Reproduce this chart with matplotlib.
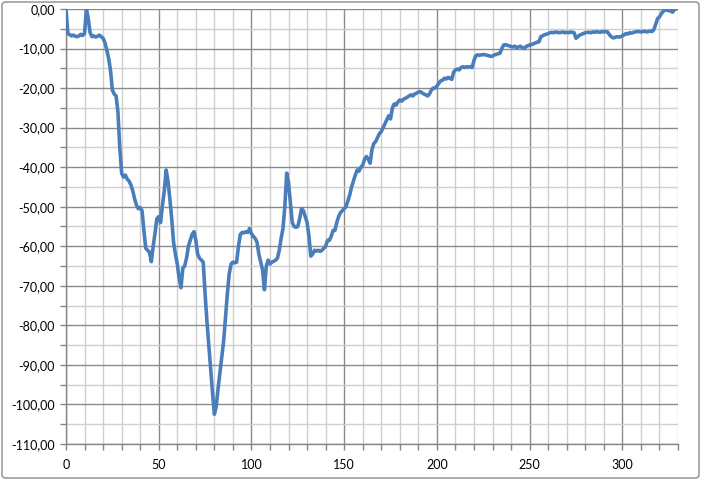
import numpy as np
import matplotlib
matplotlib.use("Agg")
import matplotlib.pyplot as plt
from matplotlib.ticker import MultipleLocator, FuncFormatter
from matplotlib.patches import FancyBboxPatch

# valeurs, une par unité de x (0 .. 329)
valeurs = [
    0.0, -6.2, -6.5, -6.8, -6.6, -6.9, -7.0, -6.8, -6.4, -6.7,
    -6.2, 0.0, -2.5, -6.0, -7.0, -6.8, -7.1, -6.9, -6.6, -7.0,
    -7.4, -8.5, -10.4, -12.5, -15.5, -20.5, -21.5, -22.0, -26.0, -35.0,
    -41.5, -42.5, -42.0, -43.0, -43.5, -44.5, -46.0, -48.0, -49.6, -50.5,
    -50.2, -51.0, -56.0, -60.5, -61.0, -61.5, -63.9, -60.0, -56.7, -53.0,
    -52.5, -54.0, -49.6, -46.0, -40.7, -43.5, -48.0, -53.0, -59.0, -62.0,
    -64.5, -68.0, -70.5, -65.5, -65.0, -63.0, -60.0, -58.5, -57.0, -56.3,
    -58.5, -62.0, -63.0, -63.5, -64.0, -72.0, -79.0, -85.0, -91.0, -97.0,
    -102.5, -100.5, -96.0, -92.0, -88.0, -84.0, -78.0, -72.0, -67.0, -64.5,
    -64.0, -64.2, -64.0, -60.0, -57.0, -56.5, -56.6, -56.3, -56.5, -55.5,
    -56.8, -57.5, -58.0, -59.0, -62.0, -64.0, -66.0, -71.0, -65.0, -63.5,
    -64.5, -64.0, -63.8, -63.5, -63.0, -61.0, -58.0, -55.5, -50.0, -41.5,
    -44.0, -49.0, -54.0, -55.0, -55.2, -55.0, -53.0, -50.5, -51.0, -52.5,
    -54.0, -57.5, -62.5, -62.0, -61.0, -61.2, -61.0, -61.3, -61.0, -60.5,
    -60.0, -58.5, -58.5, -57.5, -56.0, -56.0, -54.0, -52.5, -51.5, -51.0,
    -50.5, -50.0, -48.5, -47.0, -45.0, -43.5, -42.0, -40.7, -41.0, -40.0,
    -39.5, -38.0, -37.3, -38.0, -39.0, -35.5, -34.0, -33.5, -32.5, -31.5,
    -31.0, -30.0, -29.0, -28.0, -27.0, -27.8, -25.0, -24.0, -24.3, -23.5,
    -23.0, -23.3, -22.8, -22.6, -22.3, -22.0, -21.7, -22.0, -21.5, -21.3,
    -21.0, -20.9, -21.2, -21.5, -21.7, -22.0, -21.5, -20.5, -20.0, -20.0,
    -19.5, -18.8, -18.2, -18.0, -17.5, -17.7, -17.3, -17.5, -17.8, -16.0,
    -15.4, -15.2, -15.4, -14.8, -14.6, -14.8, -14.6, -14.7, -14.6, -14.8,
    -13.0, -11.8, -11.6, -11.7, -11.6, -11.5, -11.6, -11.7, -11.8, -12.0,
    -11.9, -11.6, -11.5, -11.3, -11.2, -10.0, -9.1, -9.0, -9.2, -9.3,
    -9.5, -9.6, -9.4, -9.8, -9.6, -9.4, -9.8, -10.0, -9.5, -9.3,
    -9.1, -9.0, -8.8, -8.6, -8.4, -8.3, -7.0, -6.8, -6.5, -6.4,
    -6.2, -6.0, -5.9, -6.0, -5.8, -5.9, -6.0, -5.9, -5.8, -6.0,
    -5.9, -6.0, -5.8, -5.9, -6.0, -7.4, -7.0, -6.6, -6.4, -6.2,
    -6.0, -5.9, -5.9, -6.0, -5.8, -5.9, -5.7, -5.8, -5.9, -5.7,
    -5.8, -5.7, -5.8, -6.5, -7.0, -7.3, -7.2, -7.0, -7.1, -7.0,
    -6.8, -6.5, -6.2, -6.3, -6.0, -6.1, -5.9, -5.8, -5.7, -5.7,
    -5.8, -5.7, -5.6, -5.8, -5.7, -5.6, -5.7, -5.2, -3.8, -2.4,
    -2.0, -1.2, -0.6, -0.2, -0.3, -0.4, -0.5, -0.8, -0.2, 0.0,
]
x = np.arange(len(valeurs))

plt.rcParams["font.family"] = ["Lato", "DejaVu Sans"]

fig = plt.figure(figsize=(7.01, 4.80), dpi=100)
ax = fig.add_axes([66 / 701, 36 / 480, 612 / 701, 435 / 480])

ax.plot(x, valeurs, color="#4a7ebb", linewidth=2.6, solid_joinstyle="round", zorder=3)

ax.set_xlim(0, 330)
ax.set_ylim(-110, 0)
ax.xaxis.set_major_locator(MultipleLocator(50))
ax.xaxis.set_minor_locator(MultipleLocator(10))
ax.yaxis.set_major_locator(MultipleLocator(10))
ax.yaxis.set_minor_locator(MultipleLocator(5))

def fmt_y(v, pos):
    if abs(v) < 1e-9:
        return "0,00"
    return f"{v:.2f}".replace(".", ",")

ax.yaxis.set_major_formatter(FuncFormatter(fmt_y))

ax.grid(which="major", color="#8a8a8a", linewidth=1.0)
ax.grid(which="minor", color="#cfcfcf", linewidth=1.0)
ax.set_axisbelow(True)

for s in ["top", "right"]:
    ax.spines[s].set_visible(False)
for s in ["left", "bottom"]:
    ax.spines[s].set_color("#868686")
    ax.spines[s].set_linewidth(1.0)

ax.tick_params(which="both", direction="out", length=4, width=1, color="#868686",
               labelsize=9, labelcolor="black")
ax.tick_params(axis="y", pad=4)
ax.tick_params(axis="x", pad=7)

# cadre arrondi autour du graphique
cadre = FancyBboxPatch((2 / 701, 2 / 480), 697 / 701, 476 / 480,
                       boxstyle="round,pad=0,rounding_size=0.006",
                       transform=fig.transFigure, fill=False,
                       edgecolor="#8c8c8c", linewidth=1.0)
fig.patches.append(cadre)

fig.savefig("out.png", dpi=100)
